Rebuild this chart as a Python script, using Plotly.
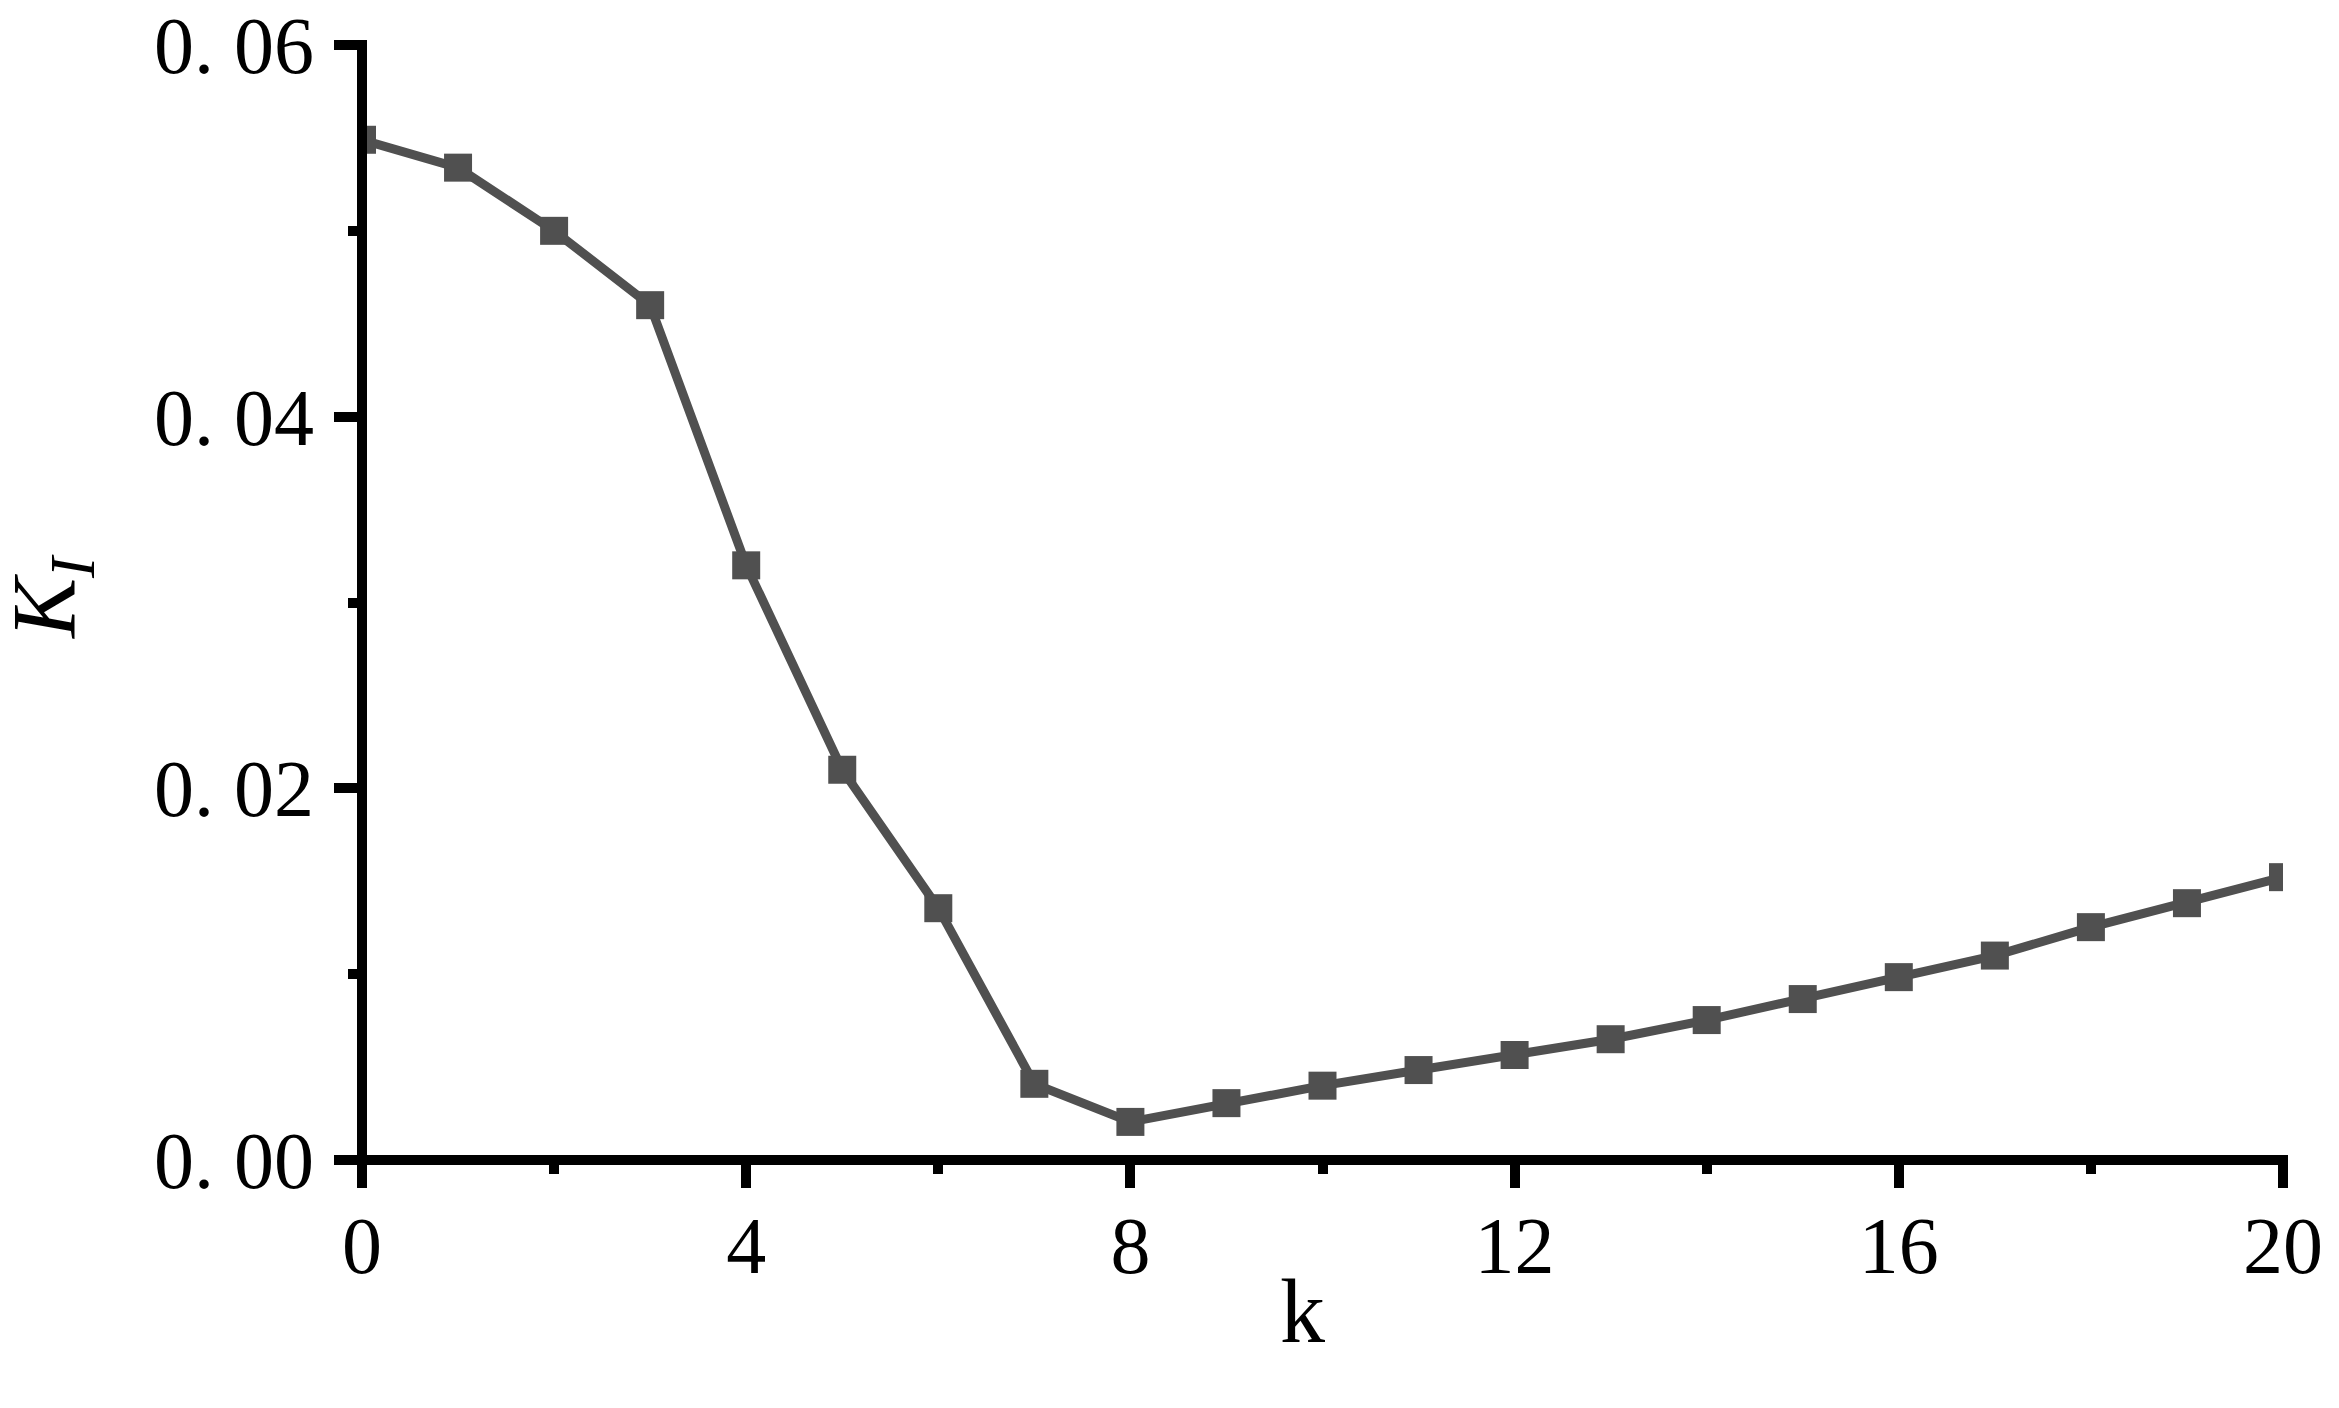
import plotly.graph_objects as go

k_values = list(range(0, 21))
KI_values = [0.0549, 0.0534, 0.0500, 0.0460, 0.0320, 0.0210, 0.01355, 0.0041, 0.00205,
             0.00306, 0.0040, 0.00484, 0.00565, 0.0065, 0.00753, 0.00866, 0.00984,
             0.0110, 0.01253, 0.01382, 0.01522]

x_tickvals = [0, 4, 8, 12, 16, 20]
x_ticktext = ["0", "4", "8", "12", "16", "20"]
x_minor = [2, 6, 10, 14, 18]
y_tickvals = [0.0, 0.02, 0.04, 0.06]
y_ticktext = ["0. 00", "0. 02", "0. 04", "0. 06"]
y_minor = [0.01, 0.03, 0.05]

FONT = "Liberation Serif"
W, H = 2339, 1408
L, R, T, B = 362, 56, 45, 248
pw = W - L - R
ph = H - T - B

fig = go.Figure()
fig.add_trace(go.Scatter(
    x=k_values, y=KI_values, mode="lines+markers",
    line=dict(color="#505050", width=9),
    marker=dict(symbol="square", size=28, color="#505050"),
    showlegend=False,
))

axis_common = dict(
    showgrid=False, zeroline=False, showline=False,
    ticks="outside", ticklen=27, tickwidth=10, tickcolor="black",
    tickfont=dict(family=FONT, size=80, color="black"),
)

fig.update_xaxes(
    range=[0, 20], tickmode="array", tickvals=x_tickvals, ticktext=x_ticktext,
    minor=dict(tickmode="array", tickvals=x_minor, ticks="outside", ticklen=13,
               tickwidth=10, tickcolor="black"),
    ticklabelstandoff=-11,
    **axis_common,
)
fig.update_yaxes(
    range=[0, 0.06], tickmode="array", tickvals=y_tickvals, ticktext=y_ticktext,
    minor=dict(tickmode="array", tickvals=y_minor, ticks="outside", ticklen=13,
               tickwidth=10, tickcolor="black"),
    ticklabelstandoff=4,
    **axis_common,
)

ex = 5 / pw
ey = 5 / ph
fig.add_shape(type="line", xref="paper", yref="paper", x0=0, x1=0, y0=-ey, y1=1 + ey,
              line=dict(color="black", width=10), layer="above")
fig.add_shape(type="line", xref="paper", yref="paper", x0=-ex, x1=1 + ex, y0=0, y1=0,
              line=dict(color="black", width=10), layer="above")

fig.add_annotation(text="<i>K<sub>I</sub></i>", xref="paper", yref="paper",
                   x=(51 - L) / pw, y=(H - B - 597) / ph, xanchor="center", yanchor="middle",
                   textangle=-90, showarrow=False,
                   font=dict(family=FONT, size=90, color="black"))
fig.add_annotation(text="k", xref="paper", yref="paper",
                   x=(1302 - L) / pw, y=(H - B - 1311) / ph, xanchor="center", yanchor="middle",
                   showarrow=False,
                   font=dict(family=FONT, size=90, color="black"))

fig.update_layout(
    width=W, height=H, margin=dict(l=L, r=R, t=T, b=B, autoexpand=False),
    paper_bgcolor="white", plot_bgcolor="white",
)
fig.write_html("out.html", config={"displayModeBar": False},
               post_script="document.body.style.margin='0';document.body.style.overflow='hidden';")
